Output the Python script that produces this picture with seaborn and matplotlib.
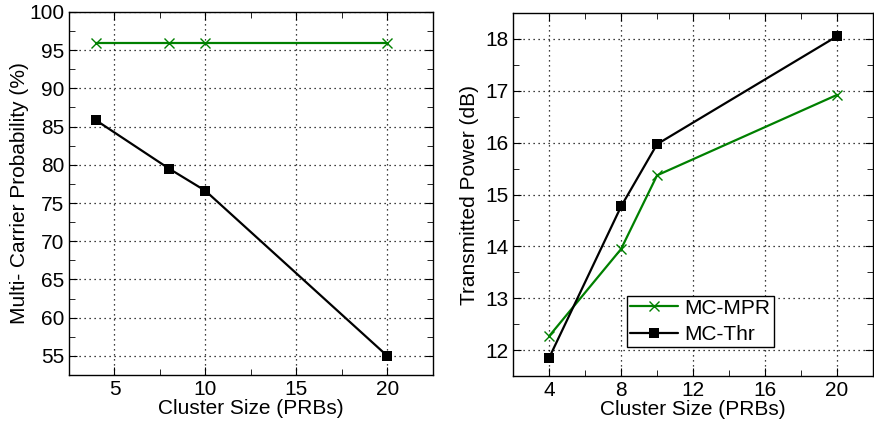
import numpy as np
import pandas as pd
import seaborn as sns
import matplotlib.pyplot as plt
from matplotlib.ticker import MultipleLocator

# 데이터
cluster = [4, 8, 10, 20]
prob_mpr = [96.0, 96.0, 96.0, 96.0]
prob_thr = [85.8, 79.5, 76.6, 55.0]
pow_mpr = [12.27, 13.95, 15.37, 16.92]
pow_thr = [11.85, 14.77, 15.97, 18.05]
series = ['MC-MPR', 'MC-Thr']

sns.set_style('ticks', {'axes.edgecolor': 'black', 'text.color': 'black',
                        'axes.labelcolor': 'black', 'xtick.color': 'black',
                        'ytick.color': 'black'})
plt.rcParams['font.family'] = ['Liberation Sans', 'DejaVu Sans']

# 시리즈별 스타일 (색, 마커)
styles = {
    'MC-MPR': dict(color='#008000', marker='x', markersize=7, markeredgewidth=1.0,
                   markeredgecolor='#008000'),
    'MC-Thr': dict(color='black', marker='s', markersize=6.5, markeredgewidth=0,
                   markeredgecolor='black'),
}

fig = plt.figure(figsize=(8.74, 4.28), dpi=100)
ax1 = fig.add_axes([0.079, 0.124, 0.416, 0.848])
ax2 = fig.add_axes([0.587, 0.121, 0.412, 0.849])

for ax, vals in [(ax1, [prob_mpr, prob_thr]), (ax2, [pow_mpr, pow_thr])]:
    for name, y in zip(series, vals):
        sns.lineplot(x=cluster, y=y, label=name, linewidth=1.6, ax=ax, **styles[name])
    ax.grid(True, which='major', linestyle=(0, (1, 3)), color='black', linewidth=0.9)
    ax.tick_params(which='both', direction='in', top=True, right=True, labelsize=15,
                   colors='black')
    ax.tick_params(which='major', length=6)
    ax.tick_params(which='minor', length=4)
    for s in ax.spines.values():
        s.set_linewidth(1.0)
        s.set_color('black')
    ax.set_xlabel('Cluster Size (PRBs)', fontsize=15, labelpad=0)

ax1.get_legend().remove()
ax1.set_xlim(2.5, 22.5)
ax1.set_ylim(52.5, 100)
ax1.xaxis.set_major_locator(MultipleLocator(5))
ax1.xaxis.set_minor_locator(MultipleLocator(2.5))
ax1.yaxis.set_major_locator(MultipleLocator(5))
ax1.yaxis.set_minor_locator(MultipleLocator(2.5))
ax1.set_ylabel('Multi- Carrier Probability (%)', fontsize=15, labelpad=0)

ax2.set_xlim(2, 22)
ax2.set_ylim(11.5, 18.5)
ax2.xaxis.set_major_locator(MultipleLocator(4))
ax2.xaxis.set_minor_locator(MultipleLocator(2))
ax2.yaxis.set_major_locator(MultipleLocator(1))
ax2.yaxis.set_minor_locator(MultipleLocator(0.5))
ax2.set_ylabel('Transmitted Power (dB)', fontsize=15, labelpad=4)

leg = ax2.legend(loc='lower left', bbox_to_anchor=(0.317, 0.08), fontsize=15,
                 frameon=True, fancybox=False, framealpha=1, edgecolor='black',
                 borderpad=0.15, handlelength=2.3, labelspacing=0.35, handletextpad=0.3,
                 borderaxespad=0)
leg.get_frame().set_linewidth(1.0)

fig.savefig('out.png', dpi=100)
